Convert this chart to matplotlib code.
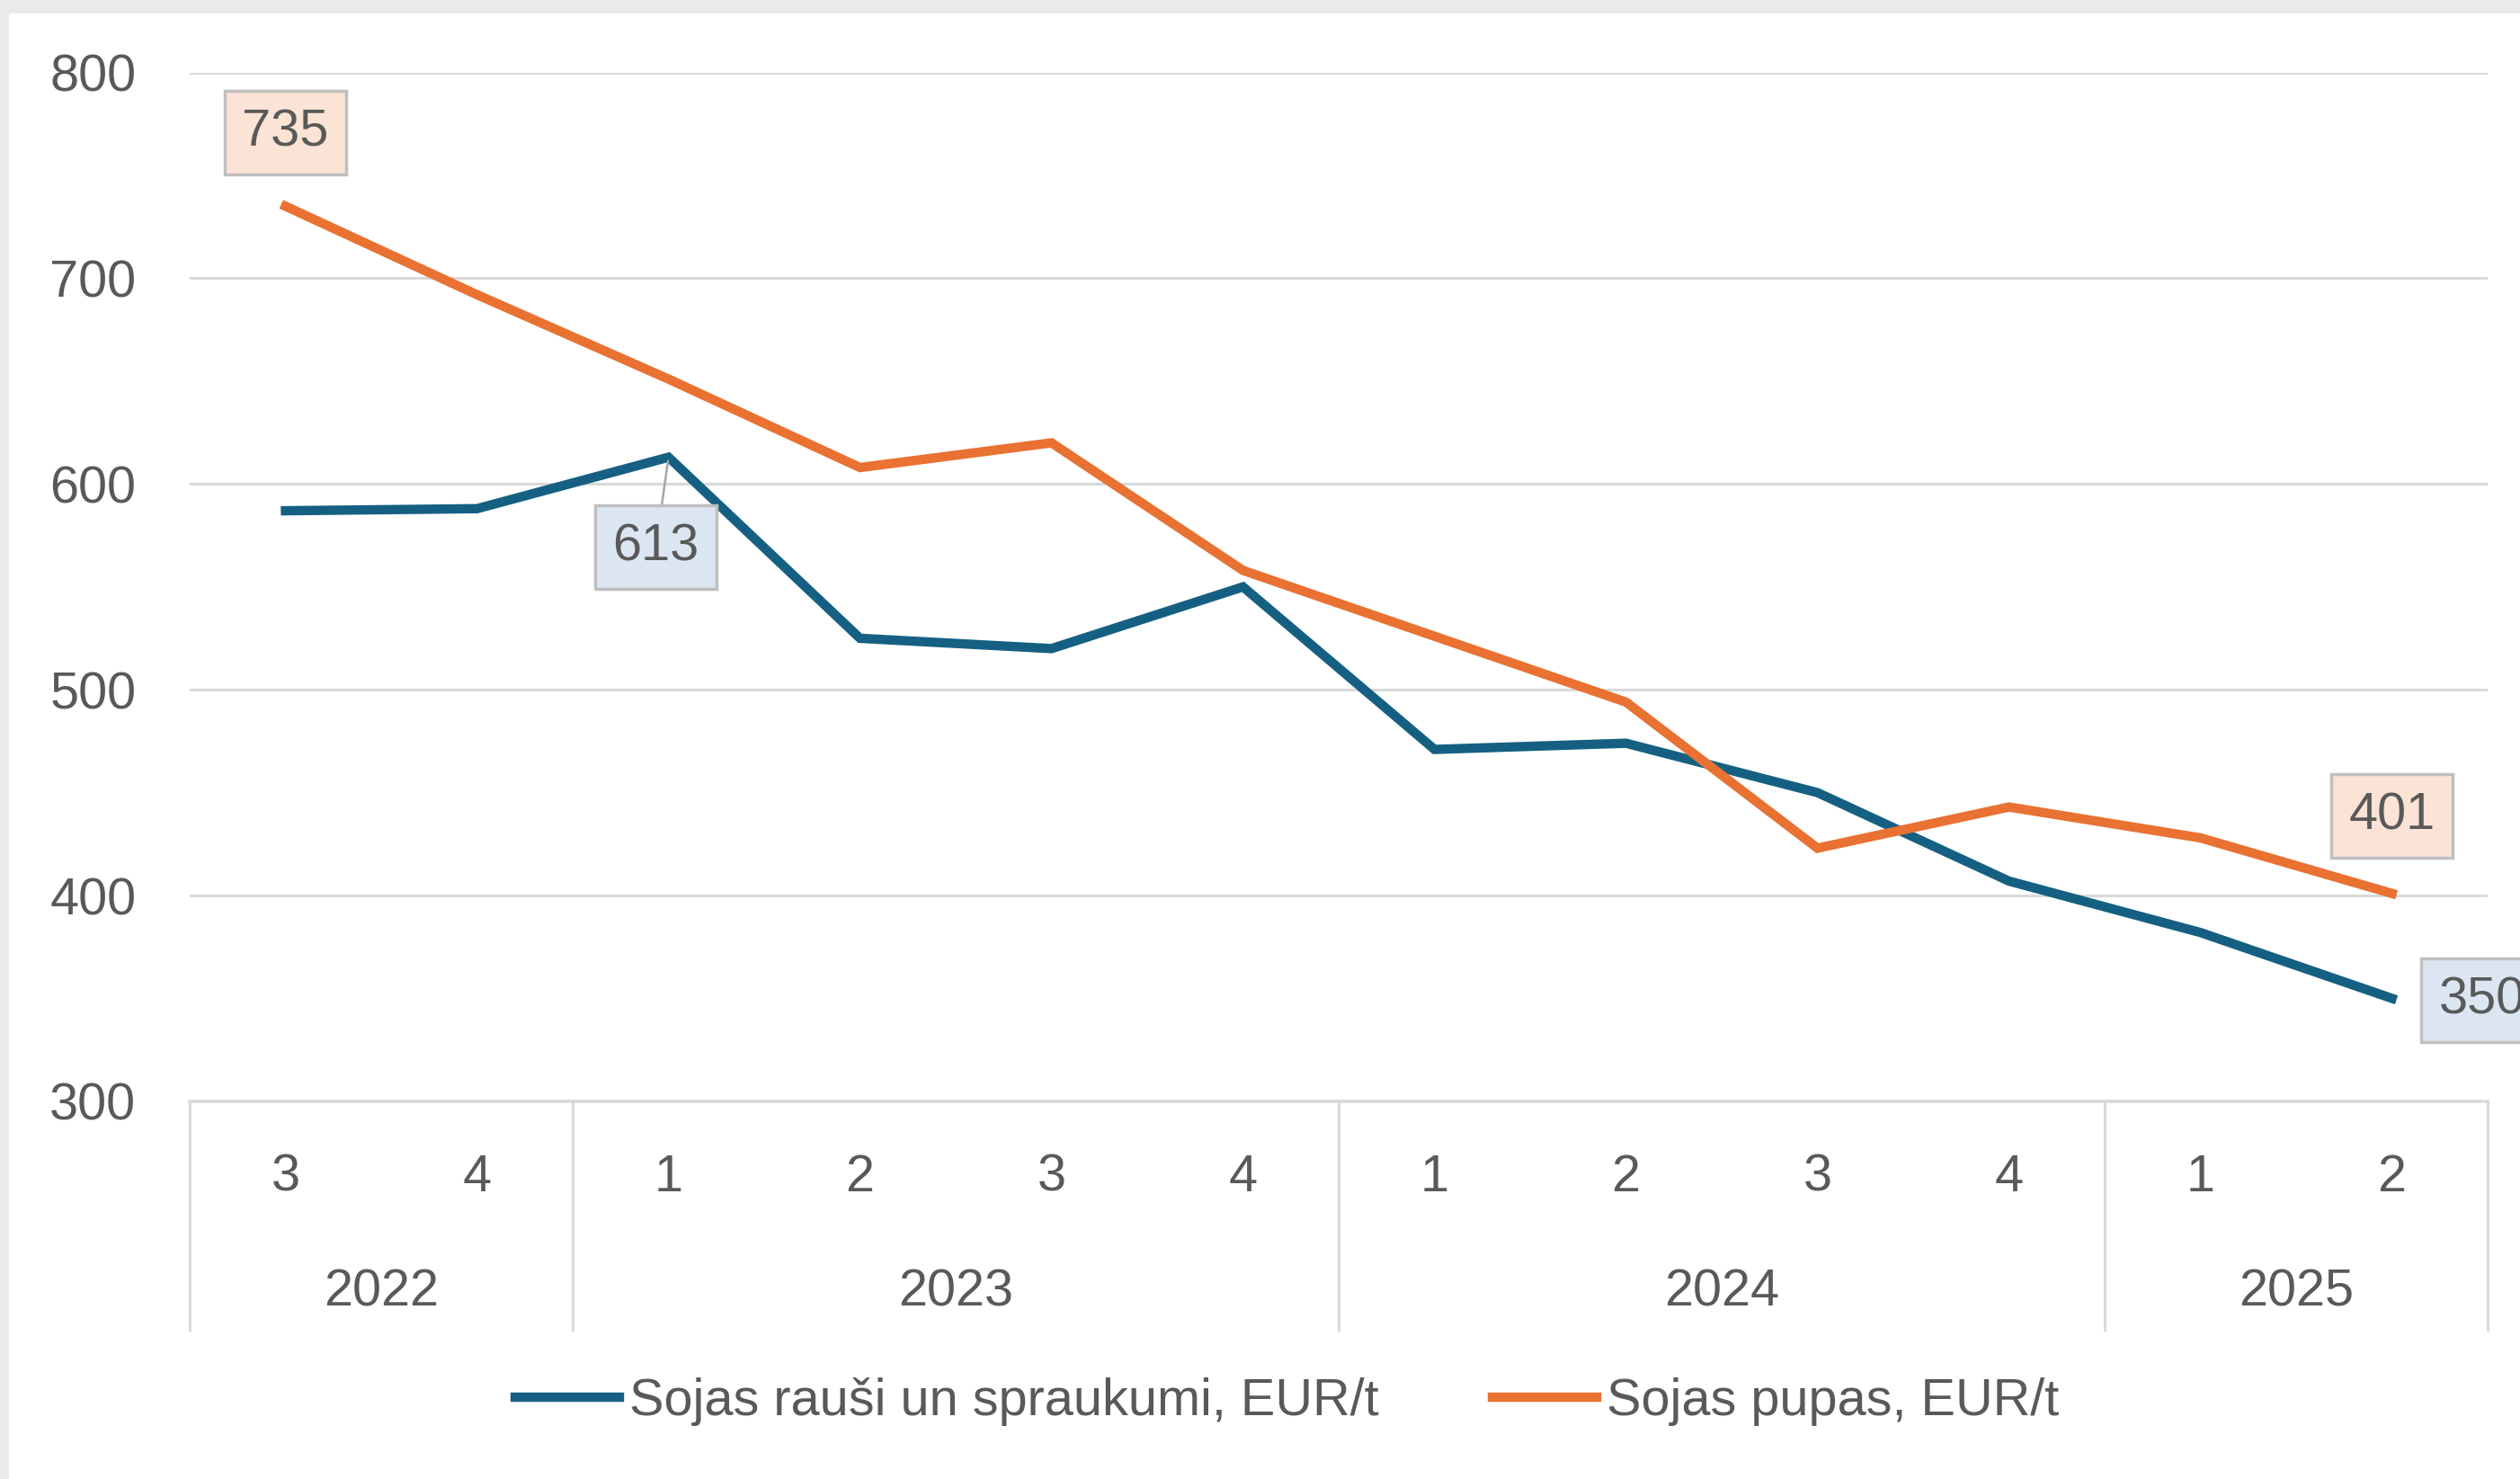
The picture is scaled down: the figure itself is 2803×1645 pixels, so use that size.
import matplotlib
matplotlib.use("Agg")
import matplotlib.pyplot as plt
from matplotlib.patches import Rectangle
import numpy as np

# quarterly prices, Q3 2022 .. Q2 2025
quarters = ["3", "4", "1", "2", "3", "4", "1", "2", "3", "4", "1", "2"]
years = ["2022", "2023", "2024", "2025"]
year_counts = [2, 4, 4, 2]
meal = [587, 588, 613, 525, 520, 550, 471, 474, 450, 407, 382, 350]
beans = [735, 692, 651, 608, 620, 558, 526, 494, 423, 443, 428, 401]
meal_name = "Sojas rauši un spraukumi, EUR/t"
beans_name = "Sojas pupas, EUR/t"

BLUE = "#156082"
ORANGE = "#E97132"
TXT = "#595959"
GRID = "#d9d9d9"
FS = 41.5

plt.rcParams["font.family"] = ["Liberation Sans", "DejaVu Sans"]

fig = plt.figure(figsize=(28.03, 16.45), dpi=100)
fig.patch.set_facecolor("#e9ebea")
fig.patches.append(Rectangle((10 / 2803, 0), 1, 1 - 15 / 1645, transform=fig.transFigure,
                             facecolor="white", edgecolor="none", zorder=-10))

ax = fig.add_axes([0.0753, 0.2554, 0.9119, 0.6956])
ax.set_zorder(1)
ax.set_facecolor("none")
x = np.arange(len(quarters))

ax.plot(x, meal, color=BLUE, lw=7.5, solid_joinstyle="miter", label=meal_name, zorder=3)
ax.plot(x, beans, color=ORANGE, lw=7.5, solid_joinstyle="miter", label=beans_name, zorder=3)

ax.set_xlim(-0.5, len(quarters) - 0.5)
ax.set_ylim(300, 800)
ax.set_yticks(np.arange(300, 801, 100))
ax.grid(axis="y", color=GRID, lw=2.2)
ax.set_axisbelow(True)
for s in ["top", "right", "left"]:
    ax.spines[s].set_visible(False)
ax.spines["bottom"].set_color(GRID)
ax.spines["bottom"].set_linewidth(2.6)
ax.tick_params(axis="y", length=0, pad=43, labelsize=FS, labelcolor=TXT)
ax.set_xticks([])

# two-level category axis
tr = ax.get_xaxis_transform()
for i, q in enumerate(quarters):
    ax.text(i, -0.074, q, transform=tr, ha="center", va="center", fontsize=FS, color=TXT)
edges = np.concatenate([[0], np.cumsum(year_counts)]) - 0.5
for e in edges:
    ax.plot([e, e], [0, -0.222], transform=tr, color=GRID, lw=2.2, clip_on=False)
for i, yr in enumerate(years):
    mid = (edges[i] + edges[i + 1]) / 2
    ax.text(mid, -0.186, yr, transform=tr, ha="center", va="center", fontsize=FS, color=TXT)

# data labels
def label(i, vals, dx, dy, fill, line=False):
    ax.annotate(str(vals[i]), (i, vals[i]), xytext=(dx, dy), textcoords="offset pixels",
                ha="center", va="center", fontsize=FS, color=TXT, zorder=5,
                bbox=dict(boxstyle="square,pad=0.34", fc=fill, ec="#bfbfbf", lw=2.5),
                arrowprops=dict(arrowstyle="-", color="#a6a6a6", lw=1.8, shrinkA=0, shrinkB=3) if line else None,
                annotation_clip=False)

label(0, beans, 0, 82, "#fbe3d6")
label(11, beans, 0, 86, "#fbe3d6")
label(2, meal, -14, -100, "#dce6f2", line=True)
label(11, meal, 100, -2, "#dce6f2")

fig.legend(loc="center", bbox_to_anchor=(801 / 1568, 1 - 872 / 920), ncol=2, frameon=False,
           fontsize=FS, labelcolor=TXT, handlelength=2.0, handletextpad=0.2, columnspacing=2.2)

fig.savefig("out.png", dpi=100)
